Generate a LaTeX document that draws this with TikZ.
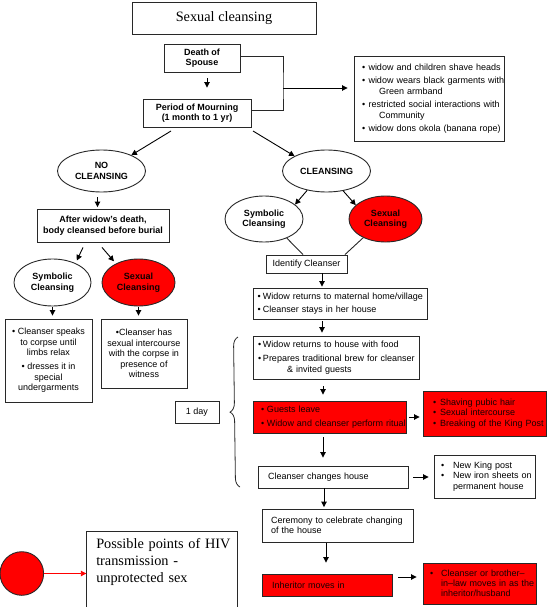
\documentclass[tikz,border=0pt]{standalone}
\usepackage{fontspec}
\setmainfont{Liberation Serif}
\setsansfont{Liberation Sans}
\usetikzlibrary{arrows.meta,shapes.geometric,decorations.pathreplacing}
\definecolor{boxline}{RGB}{40,40,40}
\definecolor{redtxt}{RGB}{25,0,0}
\definecolor{redtxtb}{RGB}{15,0,0}
\definecolor{fillred}{RGB}{255,0,0}
\newcommand\bul[1]{\makebox[#1][l]{\textbullet}}
\newcommand\ml[1]{\mbox{#1}}
\begin{document}
\begin{tikzpicture}[x=1pt,y=-1pt,
 sf/.style={font=\sffamily\fontsize{9}{10.5}\selectfont},
 sfb/.style={font=\sffamily\bfseries\fontsize{9}{10.5}\selectfont},
 box/.style={draw=boxline, line width=0.9pt, inner sep=0pt, sf},
 rbox/.style={box, fill=fillred, text=redtxt},
 oval/.style={ellipse, draw=boxline, line width=0.9pt, inner sep=0pt, sfb, align=center},
 roval/.style={oval, fill=fillred, text=redtxtb},
 arr/.style={draw=black, line width=0.9pt, -{Triangle[length=5.5pt,width=5.5pt]}},
 rarr/.style={draw=red, line width=0.9pt, -{Triangle[length=5.5pt,width=5.5pt]}},
 ln/.style={draw=boxline, line width=0.9pt},
 serifbig/.style={font=\rmfamily\fontsize{14.3}{17}\selectfont},
]
\useasboundingbox (0,0) rectangle (547,607);

% nodes
\node[box, serifbig, minimum width=184pt, minimum height=32pt] (title) at (224,18) {Sexual cleansing};
\node[box, sfb, align=center, minimum width=76pt, minimum height=28pt] (death) at (202,58) {Death of\\Spouse};
\node[box, sfb, align=center, minimum width=108pt, minimum height=28pt] (mourn) at (197,113) {Period of Mourning\\(1 month to 1 yr)};
\node[box, align=left, inner xsep=8pt, text width=134pt, minimum height=85pt] (list1) at (429,98.5)
 {\ml{\bul{6.5pt}widow and children shave heads}\\[3pt]
  \ml{\bul{6.5pt}widow wears black garments with}\\
  \ml{\hspace*{17pt}Green armband}\\[3pt]
  \ml{\bul{6.5pt}restricted social interactions with}\\
  \ml{\hspace*{17pt}Community}\\[3pt]
  \ml{\bul{6.5pt}widow dons okola (banana rope)}};

\node[oval, minimum width=88pt, minimum height=42pt] (nocl) at (101.5,171) {NO\\CLEANSING};
\node[oval, minimum width=88pt, minimum height=42pt] (cl) at (326.5,171) {CLEANSING};

\node[box, sfb, align=center, minimum width=132pt, minimum height=33pt] (after) at (103,225.5) {After widow's death,\\body cleansed before burial};
\node[oval, minimum width=77pt, minimum height=47pt] (symL) at (52.5,282.5) {Symbolic\\Cleansing};
\node[roval, minimum width=73pt, minimum height=47pt] (sexL) at (138.5,282.5) {Sexual\\Cleansing};
\node[box, align=center, minimum width=87pt, minimum height=83pt] (symLbox) at (48.5,360.5)
 {\textbullet\ Cleanser speaks\\to corpse until\\limbs relax\\[3.5pt]\textbullet\ dresses it in\\special\\undergarments};
\node[box, align=center, minimum width=86pt, minimum height=69pt] (sexLbox) at (144,353.5)
 {\textbullet Cleanser has\\sexual intercourse\\with the corpse in\\presence of\\witness};

\node[oval, minimum width=78pt, minimum height=46pt] (symR) at (264,219) {Symbolic\\Cleansing};
\node[roval, minimum width=73pt, minimum height=46pt] (sexR) at (385.5,219) {Sexual\\Cleansing};
\node[box, minimum width=81pt, minimum height=18pt] (ident) at (306.5,264) {Identify Cleanser};
\node[box, align=left, inner xsep=4.5pt, text width=165pt, minimum height=31pt] (wret) at (340,303.5)
 {\ml{\bul{5.3pt}Widow returns to maternal home/village}\\[2.5pt]\ml{\bul{5.3pt}Cleanser stays in her house}};
\node[box, align=left, inner xsep=5pt, text width=156pt, minimum height=43pt] (food) at (336,357.5)
 {\ml{\bul{5pt}Widow returns to house with food}\\[3.5pt]\ml{\bul{5pt}Prepares traditional brew for cleanser}\\\ml{\hspace*{29pt}\& invited guests}};
\node[rbox, align=left, inner xsep=8pt, text width=137pt, minimum height=32pt] (guests) at (329.5,417)
 {\ml{\bul{6pt}Guests leave}\\[3.5pt]\ml{\bul{6pt}Widow and cleanser perform ritual}};
\node[rbox, align=left, inner xsep=10pt, text width=103pt, minimum height=45pt] (rlist) at (484.5,413.5)
 {\ml{\bul{7pt}Shaving pubic hair}\\\ml{\bul{7pt}Sexual intercourse}\\\ml{\bul{7pt}Breaking of the King Post}};
\node[box, align=left, inner xsep=10pt, text width=130pt, minimum height=22pt] (chg) at (333,477) {\ml{Cleanser changes house}};
\node[box, align=left, inner xsep=7pt, text width=87pt, minimum height=43pt] (king) at (484.5,476.5)
 {\ml{\bul{12pt}New King post}\\\ml{\bul{12pt}New iron sheets on}\\\ml{\hspace*{12pt}permanent house}};
\node[box, align=left, inner xsep=9pt, text width=133pt, minimum height=33pt] (cer) at (337.5,525.5)
 {\ml{Ceremony to celebrate changing}\\\ml{of the house}};
\node[rbox, align=left, inner xsep=10pt, text width=110pt, minimum height=22pt] (inh) at (327,585) {\ml{Inheritor moves in}};
\node[rbox, align=left, inner xsep=7pt, text width=99pt, minimum height=41pt, font=\sffamily\fontsize{9}{10}\selectfont] (bro) at (479.5,583.5)
 {\ml{\bul{11pt}Cleanser or brother--}\\\ml{\hspace*{11pt}in--law moves in as the}\\\ml{\hspace*{11pt}inheritor/husband}};
\node[box, minimum width=44pt, minimum height=22pt] (day) at (197,412) {1 day};

\node[circle, draw=boxline, line width=0.9pt, fill=fillred, minimum size=43.6pt, inner sep=0pt] (dot) at (21.8,573.5) {};
\node[box, serifbig, align=left, inner xsep=9.5pt, text width=132pt, minimum height=76pt] (poss) at (162.25,569)
 {\ml{Possible points of HIV}\\\ml{transmission -}\\\ml{unprotected sex}\rule[-18pt]{0pt}{1pt}};

% coordinates
\coordinate (ax) at (207,0);
\coordinate (brk) at (283,88);
\coordinate (m1) at (171,131);
\coordinate (m2) at (253,131);
\coordinate (bx) at (97.5,0);
\coordinate (cx) at (322,0);
\coordinate (gx) at (323,0);
\coordinate (hx) at (324,0);
\coordinate (kx) at (326,0);
\coordinate (iy) at (0,577);

% connectors
\draw[arr, shorten <=6pt, shorten >=11pt] (death.south -| ax) -- (mourn.north -| ax);
\draw[ln] ([yshift=2pt]death.east) -| (brk) |- ([yshift=3pt]mourn.east);
\draw[arr, shorten >=6pt] (brk) -- (brk -| list1.west);
\draw[arr] (m1) -- (nocl.28);
\draw[arr] (m2) -- (cl.155);
\draw[arr, shorten <=5pt, shorten >=1.5pt] (nocl.south -| bx) -- (after.north -| bx);
\draw[arr, shorten >=3pt] ([shift={(-20,5)}]after.south) -- (symL.40);
\draw[arr, shorten >=3pt] ([shift={(-1,5)}]after.south) -- (sexL.140);
\draw[arr, shorten <=1pt, shorten >=3pt] (symL.south) -- (symL.south |- symLbox.north);
\draw[arr, shorten <=1pt, shorten >=3pt] (sexL.south) -- (sexL.south |- sexLbox.north);
\draw[arr] (cl.225) -- (symR.25);
\draw[arr] (cl.310) -- (sexR.155);
\draw[ln] (symR.-40) -- ([xshift=-3.5pt]ident.north);
\draw[ln] (sexR.220) -- ([xshift=38.5pt]ident.north);
\draw[arr, shorten >=1pt] (ident.south -| cx) -- (wret.north -| cx);
\draw[arr, shorten <=2pt, shorten >=3pt] (wret.south -| cx) -- (food.north -| cx);
\draw[arr, shorten <=7pt, shorten >=6pt] (food.south -| gx) -- (guests.north -| gx);
\draw[arr, shorten <=3pt, shorten >=3pt] (guests.east) -- (guests.east -| rlist.west);
\draw[arr, shorten <=4pt, shorten >=8pt] (guests.south -| gx) -- (chg.north -| gx);
\draw[arr, shorten <=5pt, shorten >=5pt] (chg.east) -- (chg.east -| king.west);
\draw[arr, shorten >=1.5pt] (chg.south -| hx) -- (cer.north -| hx);
\draw[arr, shorten <=1pt, shorten >=11pt] (cer.south -| kx) -- (inh.north -| kx);
\draw[arr, shorten <=6pt, shorten >=6pt] (inh.east |- iy) -- (bro.west |- iy);
\draw[rarr] (dot.east) -- (dot.east -| poss.west);

% brace
\draw[draw=boxline, line width=0.8pt, decorate, decoration={brace, amplitude=9pt, aspect=0.5}] (240,487) -- (238,337);
\end{tikzpicture}
\end{document}
